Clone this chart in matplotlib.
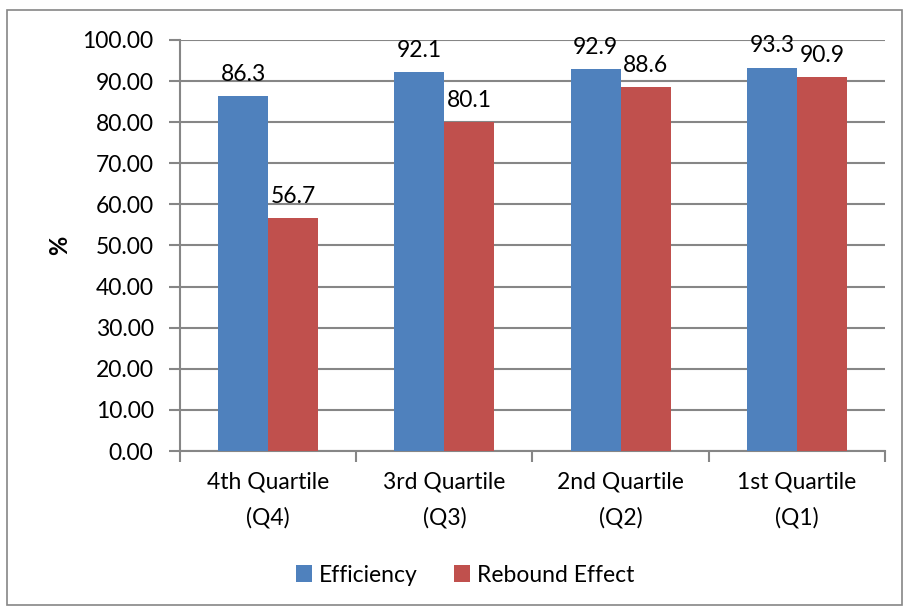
import numpy as np
import matplotlib
matplotlib.use('Agg')
import matplotlib.pyplot as plt
from matplotlib.patches import Rectangle

plt.rcParams['font.family'] = ['Lato', 'DejaVu Sans']

categories = ['4th Quartile\n(Q4)', '3rd Quartile\n(Q3)', '2nd Quartile\n(Q2)', '1st Quartile\n(Q1)']
efficiency = [86.3, 92.1, 92.9, 93.3]
rebound = [56.7, 80.1, 88.6, 90.9]

blue = '#4F81BD'
red = '#C0504D'
grey = '#868686'
fs = 16.5

fig = plt.figure(figsize=(9.04, 6.08), dpi=100)
ax = fig.add_axes([180 / 904, 157 / 608, 705 / 904, 411 / 608])

# outer chart border
fig.patches.append(Rectangle((7 / 904, 3 / 608), 895 / 904, 595 / 608, transform=fig.transFigure,
                             fill=False, edgecolor=grey, linewidth=1.2))

ind = np.arange(len(categories))
width = 0.284
b1 = ax.bar(ind - width / 2, efficiency, width, color=blue, label='Efficiency', zorder=3)
b2 = ax.bar(ind + width / 2, rebound, width, color=red, label='Rebound Effect', zorder=3)

for bars, vals in ((b1, efficiency), (b2, rebound)):
    for b, v in zip(bars, vals):
        ax.annotate(f'{v:.1f}', (b.get_x() + b.get_width() / 2, v), xytext=(0, 8),
                    textcoords='offset points', ha='center', va='bottom', fontsize=fs)

ax.set_xlim(-0.5, len(categories) - 0.5)
ax.set_ylim(0, 100)
ax.set_yticks(np.arange(0, 101, 10))
ax.set_yticklabels([f'{t:.2f}' for t in np.arange(0, 101, 10)], fontsize=fs)
ax.yaxis.grid(True, color=grey, linewidth=1.5, zorder=0)
ax.set_axisbelow(True)

ax.set_xticks(ind)
ax.set_xticklabels(categories, fontsize=fs, linespacing=1.8)
ax.set_xticks(np.arange(-0.5, len(categories)), minor=True)
ax.tick_params(axis='x', which='major', length=0, pad=15)
ax.tick_params(axis='x', which='minor', length=8, color=grey, width=1.5)
ax.tick_params(axis='y', length=8, color=grey, width=1.5, pad=11)

for s in ('top', 'right'):
    ax.spines[s].set_visible(False)
for s in ('left', 'bottom'):
    ax.spines[s].set_color(grey)
    ax.spines[s].set_linewidth(1.5)

ax.set_ylabel('%', fontsize=17, fontweight='bold', labelpad=8)

ax.legend(loc='center', bbox_to_anchor=(465 / 904, 33 / 608), bbox_transform=fig.transFigure,
          ncol=2, frameon=False, fontsize=fs, handlelength=0.7, handleheight=0.7,
          handletextpad=0.3, columnspacing=1.6)

fig.savefig('out.png', dpi=100)
